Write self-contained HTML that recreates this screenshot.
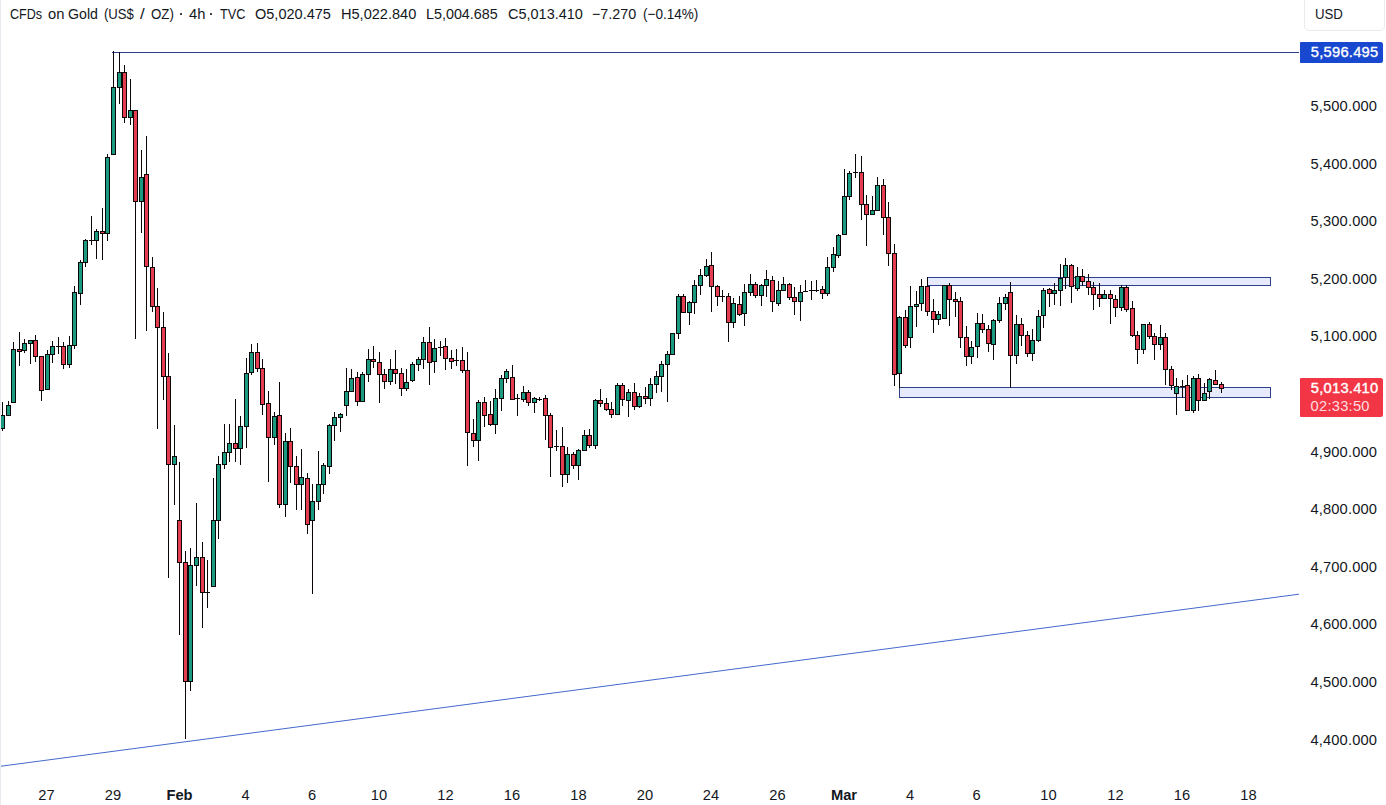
<!DOCTYPE html>
<html><head><meta charset="utf-8"><title>Gold 4h</title>
<style>
html,body{margin:0;padding:0;background:#fff}
body{width:1386px;height:805px;position:relative;overflow:hidden;font-family:"Liberation Sans",sans-serif;color:#131722}
.t{position:absolute;white-space:nowrap;font-size:14.7px;line-height:16px;height:16px}
.w{transform-origin:0 50%}
.x{width:60px;text-align:center}
.b{font-weight:bold}
.dot{position:absolute;width:2.1px;height:2.1px;background:#20242e;border-radius:.4px}
.p{letter-spacing:.15px}
#edge{position:absolute;left:0;top:0;width:1px;height:805px;background:#e9eaef}
#usd{position:absolute;left:1303.5px;top:-6px;width:79px;height:35px;border:1px solid #ebebee;border-radius:5px;box-sizing:content-box}
#usdt{left:1314.7px;top:6.2px;transform:scaleX(.9);transform-origin:0 50%}
#hl{position:absolute;left:1300px;top:42px;width:83px;height:20.7px;background:#1848d0;border-radius:1px 2.5px 2.5px 1px}
#hlt{left:1310.8px;top:44.1px;color:#fff;letter-spacing:.25px;-webkit-text-stroke:.35px #fff}
#pl{position:absolute;left:1300px;top:378px;width:83px;height:38.7px;background:#f23645;border-radius:1px 2.5px 2.5px 1px}
#plt{left:1310.8px;top:379.9px;color:#fff;letter-spacing:.25px;-webkit-text-stroke:.4px #fff}
#plc{left:1310.6px;top:397.6px;color:rgba(255,255,255,.84);letter-spacing:.25px}
</style></head><body>
<svg width="1386" height="805" viewBox="0 0 1386 805" shape-rendering="crispEdges" style="position:absolute;left:0;top:0"><rect x="927" y="277" width="344" height="9" fill="#2c408e"/><rect x="928" y="278" width="342" height="7" fill="#e6eafa"/><rect x="899" y="387" width="372" height="11" fill="#2c408e"/><rect x="900" y="388" width="370" height="9" fill="#e6eafa"/><rect x="112" y="52" width="1187" height="1" fill="#2c408e"/><line x1="-2" y1="766.6" x2="1299" y2="594.2" stroke="#4369cc" stroke-width="1" shape-rendering="geometricPrecision"/><g fill="#0d0606"><rect x="2" y="402" width="1" height="29"/><rect x="0" y="415" width="5" height="14"/><rect x="1" y="416" width="3" height="12" fill="#1a9a80"/><rect x="8" y="401" width="1" height="15"/><rect x="6" y="405" width="5" height="11"/><rect x="7" y="406" width="3" height="9" fill="#1a9a80"/><rect x="13" y="342" width="1" height="61"/><rect x="11" y="349" width="5" height="54"/><rect x="12" y="350" width="3" height="52" fill="#1a9a80"/><rect x="19" y="332" width="1" height="34"/><rect x="17" y="349" width="5" height="3"/><rect x="18" y="350" width="3" height="1" fill="#e43d50"/><rect x="24" y="339" width="1" height="14"/><rect x="22" y="343" width="5" height="8"/><rect x="23" y="344" width="3" height="6" fill="#1a9a80"/><rect x="30" y="340" width="1" height="24"/><rect x="28" y="340" width="5" height="4"/><rect x="29" y="341" width="3" height="2" fill="#1a9a80"/><rect x="35" y="335" width="1" height="27"/><rect x="33" y="340" width="5" height="17"/><rect x="34" y="341" width="3" height="15" fill="#e43d50"/><rect x="41" y="356" width="1" height="45"/><rect x="39" y="356" width="5" height="35"/><rect x="40" y="357" width="3" height="33" fill="#e43d50"/><rect x="47" y="350" width="1" height="40"/><rect x="45" y="354" width="5" height="36"/><rect x="46" y="355" width="3" height="34" fill="#1a9a80"/><rect x="52" y="341" width="1" height="22"/><rect x="50" y="346" width="5" height="9"/><rect x="51" y="347" width="3" height="7" fill="#1a9a80"/><rect x="58" y="337" width="1" height="17"/><rect x="56" y="346" width="5" height="1"/><rect x="63" y="342" width="1" height="27"/><rect x="61" y="346" width="5" height="19"/><rect x="62" y="347" width="3" height="17" fill="#e43d50"/><rect x="69" y="336" width="1" height="32"/><rect x="67" y="345" width="5" height="20"/><rect x="68" y="346" width="3" height="18" fill="#1a9a80"/><rect x="74" y="286" width="1" height="63"/><rect x="72" y="292" width="5" height="54"/><rect x="73" y="293" width="3" height="52" fill="#1a9a80"/><rect x="80" y="260" width="1" height="45"/><rect x="78" y="262" width="5" height="32"/><rect x="79" y="263" width="3" height="30" fill="#1a9a80"/><rect x="85" y="239" width="1" height="28"/><rect x="83" y="240" width="5" height="23"/><rect x="84" y="241" width="3" height="21" fill="#1a9a80"/><rect x="91" y="216" width="1" height="29"/><rect x="89" y="240" width="5" height="1"/><rect x="96" y="229" width="1" height="30"/><rect x="94" y="231" width="5" height="10"/><rect x="95" y="232" width="3" height="8" fill="#1a9a80"/><rect x="102" y="208" width="1" height="52"/><rect x="100" y="231" width="5" height="3"/><rect x="101" y="232" width="3" height="1" fill="#e43d50"/><rect x="107" y="154" width="1" height="87"/><rect x="105" y="157" width="5" height="77"/><rect x="106" y="158" width="3" height="75" fill="#1a9a80"/><rect x="113" y="51" width="1" height="104"/><rect x="111" y="87" width="5" height="68"/><rect x="112" y="88" width="3" height="66" fill="#1a9a80"/><rect x="119" y="52" width="1" height="52"/><rect x="117" y="72" width="5" height="16"/><rect x="118" y="73" width="3" height="14" fill="#1a9a80"/><rect x="124" y="65" width="1" height="58"/><rect x="122" y="72" width="5" height="46"/><rect x="123" y="73" width="3" height="44" fill="#e43d50"/><rect x="130" y="79" width="1" height="46"/><rect x="128" y="110" width="5" height="8"/><rect x="129" y="111" width="3" height="6" fill="#1a9a80"/><rect x="135" y="110" width="1" height="229"/><rect x="133" y="110" width="5" height="92"/><rect x="134" y="111" width="3" height="90" fill="#e43d50"/><rect x="141" y="150" width="1" height="83"/><rect x="139" y="177" width="5" height="25"/><rect x="140" y="178" width="3" height="23" fill="#1a9a80"/><rect x="146" y="136" width="1" height="195"/><rect x="144" y="174" width="5" height="93"/><rect x="145" y="175" width="3" height="91" fill="#e43d50"/><rect x="152" y="257" width="1" height="55"/><rect x="150" y="267" width="5" height="40"/><rect x="151" y="268" width="3" height="38" fill="#e43d50"/><rect x="157" y="288" width="1" height="141"/><rect x="155" y="306" width="5" height="22"/><rect x="156" y="307" width="3" height="20" fill="#e43d50"/><rect x="163" y="312" width="1" height="88"/><rect x="161" y="327" width="5" height="50"/><rect x="162" y="328" width="3" height="48" fill="#e43d50"/><rect x="168" y="353" width="1" height="225"/><rect x="166" y="376" width="5" height="89"/><rect x="167" y="377" width="3" height="87" fill="#e43d50"/><rect x="174" y="425" width="1" height="80"/><rect x="172" y="456" width="5" height="9"/><rect x="173" y="457" width="3" height="7" fill="#1a9a80"/><rect x="179" y="462" width="1" height="173"/><rect x="177" y="520" width="5" height="43"/><rect x="178" y="521" width="3" height="41" fill="#e43d50"/><rect x="185" y="551" width="1" height="188"/><rect x="183" y="562" width="5" height="120"/><rect x="184" y="563" width="3" height="118" fill="#e43d50"/><rect x="190" y="548" width="1" height="143"/><rect x="188" y="565" width="5" height="117"/><rect x="189" y="566" width="3" height="115" fill="#1a9a80"/><rect x="196" y="503" width="1" height="83"/><rect x="194" y="557" width="5" height="9"/><rect x="195" y="558" width="3" height="7" fill="#1a9a80"/><rect x="202" y="542" width="1" height="86"/><rect x="200" y="557" width="5" height="36"/><rect x="201" y="558" width="3" height="34" fill="#e43d50"/><rect x="207" y="560" width="1" height="48"/><rect x="205" y="592" width="5" height="1"/><rect x="213" y="478" width="1" height="109"/><rect x="211" y="520" width="5" height="67"/><rect x="212" y="521" width="3" height="65" fill="#1a9a80"/><rect x="218" y="456" width="1" height="83"/><rect x="216" y="464" width="5" height="57"/><rect x="217" y="465" width="3" height="55" fill="#1a9a80"/><rect x="224" y="424" width="1" height="45"/><rect x="222" y="452" width="5" height="13"/><rect x="223" y="453" width="3" height="11" fill="#1a9a80"/><rect x="229" y="424" width="1" height="38"/><rect x="227" y="443" width="5" height="10"/><rect x="228" y="444" width="3" height="8" fill="#1a9a80"/><rect x="235" y="399" width="1" height="63"/><rect x="233" y="443" width="5" height="6"/><rect x="234" y="444" width="3" height="4" fill="#e43d50"/><rect x="240" y="416" width="1" height="49"/><rect x="238" y="426" width="5" height="23"/><rect x="239" y="427" width="3" height="21" fill="#1a9a80"/><rect x="246" y="358" width="1" height="90"/><rect x="244" y="373" width="5" height="54"/><rect x="245" y="374" width="3" height="52" fill="#1a9a80"/><rect x="251" y="344" width="1" height="31"/><rect x="249" y="352" width="5" height="21"/><rect x="250" y="353" width="3" height="19" fill="#1a9a80"/><rect x="257" y="343" width="1" height="29"/><rect x="255" y="352" width="5" height="17"/><rect x="256" y="353" width="3" height="15" fill="#e43d50"/><rect x="262" y="359" width="1" height="56"/><rect x="260" y="368" width="5" height="37"/><rect x="261" y="369" width="3" height="35" fill="#e43d50"/><rect x="268" y="391" width="1" height="91"/><rect x="266" y="403" width="5" height="35"/><rect x="267" y="404" width="3" height="33" fill="#e43d50"/><rect x="274" y="412" width="1" height="33"/><rect x="272" y="416" width="5" height="22"/><rect x="273" y="417" width="3" height="20" fill="#1a9a80"/><rect x="279" y="382" width="1" height="126"/><rect x="277" y="415" width="5" height="90"/><rect x="278" y="416" width="3" height="88" fill="#e43d50"/><rect x="285" y="433" width="1" height="84"/><rect x="283" y="441" width="5" height="64"/><rect x="284" y="442" width="3" height="62" fill="#1a9a80"/><rect x="290" y="428" width="1" height="55"/><rect x="288" y="441" width="5" height="26"/><rect x="289" y="442" width="3" height="24" fill="#e43d50"/><rect x="296" y="456" width="1" height="54"/><rect x="294" y="466" width="5" height="19"/><rect x="295" y="467" width="3" height="17" fill="#e43d50"/><rect x="301" y="449" width="1" height="61"/><rect x="299" y="477" width="5" height="8"/><rect x="300" y="478" width="3" height="6" fill="#1a9a80"/><rect x="307" y="473" width="1" height="61"/><rect x="305" y="478" width="5" height="47"/><rect x="306" y="479" width="3" height="45" fill="#e43d50"/><rect x="312" y="484" width="1" height="110"/><rect x="310" y="501" width="5" height="20"/><rect x="311" y="502" width="3" height="18" fill="#1a9a80"/><rect x="318" y="451" width="1" height="59"/><rect x="316" y="484" width="5" height="18"/><rect x="317" y="485" width="3" height="16" fill="#1a9a80"/><rect x="323" y="463" width="1" height="31"/><rect x="321" y="465" width="5" height="20"/><rect x="322" y="466" width="3" height="18" fill="#1a9a80"/><rect x="329" y="424" width="1" height="50"/><rect x="327" y="425" width="5" height="42"/><rect x="328" y="426" width="3" height="40" fill="#1a9a80"/><rect x="334" y="412" width="1" height="29"/><rect x="332" y="417" width="5" height="9"/><rect x="333" y="418" width="3" height="7" fill="#1a9a80"/><rect x="340" y="413" width="1" height="19"/><rect x="338" y="414" width="5" height="4"/><rect x="339" y="415" width="3" height="2" fill="#1a9a80"/><rect x="346" y="368" width="1" height="48"/><rect x="344" y="391" width="5" height="15"/><rect x="345" y="392" width="3" height="13" fill="#1a9a80"/><rect x="351" y="369" width="1" height="23"/><rect x="349" y="378" width="5" height="14"/><rect x="350" y="379" width="3" height="12" fill="#1a9a80"/><rect x="357" y="372" width="1" height="34"/><rect x="355" y="377" width="5" height="25"/><rect x="356" y="378" width="3" height="23" fill="#e43d50"/><rect x="362" y="372" width="1" height="30"/><rect x="360" y="374" width="5" height="28"/><rect x="361" y="375" width="3" height="26" fill="#1a9a80"/><rect x="368" y="349" width="1" height="33"/><rect x="366" y="359" width="5" height="16"/><rect x="367" y="360" width="3" height="14" fill="#1a9a80"/><rect x="373" y="346" width="1" height="22"/><rect x="371" y="359" width="5" height="3"/><rect x="372" y="360" width="3" height="1" fill="#e43d50"/><rect x="379" y="352" width="1" height="51"/><rect x="377" y="362" width="5" height="13"/><rect x="378" y="363" width="3" height="11" fill="#e43d50"/><rect x="384" y="369" width="1" height="20"/><rect x="382" y="374" width="5" height="8"/><rect x="383" y="375" width="3" height="6" fill="#e43d50"/><rect x="390" y="359" width="1" height="26"/><rect x="388" y="369" width="5" height="13"/><rect x="389" y="370" width="3" height="11" fill="#1a9a80"/><rect x="395" y="350" width="1" height="34"/><rect x="393" y="369" width="5" height="5"/><rect x="394" y="370" width="3" height="3" fill="#e43d50"/><rect x="401" y="368" width="1" height="28"/><rect x="399" y="373" width="5" height="16"/><rect x="400" y="374" width="3" height="14" fill="#e43d50"/><rect x="406" y="369" width="1" height="22"/><rect x="404" y="382" width="5" height="7"/><rect x="405" y="383" width="3" height="5" fill="#1a9a80"/><rect x="412" y="362" width="1" height="20"/><rect x="410" y="364" width="5" height="17"/><rect x="411" y="365" width="3" height="15" fill="#1a9a80"/><rect x="418" y="357" width="1" height="14"/><rect x="416" y="359" width="5" height="6"/><rect x="417" y="360" width="3" height="4" fill="#1a9a80"/><rect x="423" y="337" width="1" height="32"/><rect x="421" y="342" width="5" height="18"/><rect x="422" y="343" width="3" height="16" fill="#1a9a80"/><rect x="429" y="327" width="1" height="58"/><rect x="427" y="342" width="5" height="21"/><rect x="428" y="343" width="3" height="19" fill="#e43d50"/><rect x="434" y="339" width="1" height="34"/><rect x="432" y="348" width="5" height="14"/><rect x="433" y="349" width="3" height="12" fill="#1a9a80"/><rect x="440" y="341" width="1" height="15"/><rect x="438" y="347" width="5" height="1"/><rect x="445" y="338" width="1" height="32"/><rect x="443" y="346" width="5" height="13"/><rect x="444" y="347" width="3" height="11" fill="#e43d50"/><rect x="451" y="350" width="1" height="19"/><rect x="449" y="358" width="5" height="4"/><rect x="450" y="359" width="3" height="2" fill="#e43d50"/><rect x="456" y="349" width="1" height="17"/><rect x="454" y="360" width="5" height="1"/><rect x="462" y="347" width="1" height="26"/><rect x="460" y="360" width="5" height="11"/><rect x="461" y="361" width="3" height="9" fill="#e43d50"/><rect x="467" y="352" width="1" height="114"/><rect x="465" y="370" width="5" height="63"/><rect x="466" y="371" width="3" height="61" fill="#e43d50"/><rect x="473" y="419" width="1" height="28"/><rect x="471" y="433" width="5" height="8"/><rect x="472" y="434" width="3" height="6" fill="#e43d50"/><rect x="478" y="400" width="1" height="61"/><rect x="476" y="402" width="5" height="39"/><rect x="477" y="403" width="3" height="37" fill="#1a9a80"/><rect x="484" y="397" width="1" height="30"/><rect x="482" y="402" width="5" height="14"/><rect x="483" y="403" width="3" height="12" fill="#e43d50"/><rect x="490" y="401" width="1" height="25"/><rect x="488" y="414" width="5" height="11"/><rect x="489" y="415" width="3" height="9" fill="#e43d50"/><rect x="495" y="389" width="1" height="45"/><rect x="493" y="398" width="5" height="27"/><rect x="494" y="399" width="3" height="25" fill="#1a9a80"/><rect x="501" y="375" width="1" height="36"/><rect x="499" y="378" width="5" height="21"/><rect x="500" y="379" width="3" height="19" fill="#1a9a80"/><rect x="506" y="369" width="1" height="14"/><rect x="504" y="371" width="5" height="8"/><rect x="505" y="372" width="3" height="6" fill="#1a9a80"/><rect x="512" y="365" width="1" height="35"/><rect x="510" y="377" width="5" height="23"/><rect x="511" y="378" width="3" height="21" fill="#e43d50"/><rect x="517" y="394" width="1" height="22"/><rect x="515" y="398" width="5" height="1"/><rect x="523" y="386" width="1" height="16"/><rect x="521" y="392" width="5" height="8"/><rect x="522" y="393" width="3" height="6" fill="#1a9a80"/><rect x="528" y="390" width="1" height="16"/><rect x="526" y="392" width="5" height="11"/><rect x="527" y="393" width="3" height="9" fill="#e43d50"/><rect x="534" y="397" width="1" height="16"/><rect x="532" y="398" width="5" height="5"/><rect x="533" y="399" width="3" height="3" fill="#1a9a80"/><rect x="539" y="397" width="1" height="4"/><rect x="537" y="399" width="5" height="1"/><rect x="545" y="395" width="1" height="45"/><rect x="543" y="398" width="5" height="18"/><rect x="544" y="399" width="3" height="16" fill="#e43d50"/><rect x="550" y="413" width="1" height="64"/><rect x="548" y="415" width="5" height="33"/><rect x="549" y="416" width="3" height="31" fill="#e43d50"/><rect x="556" y="430" width="1" height="21"/><rect x="554" y="446" width="5" height="1"/><rect x="562" y="427" width="1" height="60"/><rect x="560" y="446" width="5" height="29"/><rect x="561" y="447" width="3" height="27" fill="#e43d50"/><rect x="567" y="447" width="1" height="36"/><rect x="565" y="454" width="5" height="21"/><rect x="566" y="455" width="3" height="19" fill="#1a9a80"/><rect x="573" y="452" width="1" height="17"/><rect x="571" y="454" width="5" height="12"/><rect x="572" y="455" width="3" height="10" fill="#e43d50"/><rect x="578" y="449" width="1" height="31"/><rect x="576" y="450" width="5" height="16"/><rect x="577" y="451" width="3" height="14" fill="#1a9a80"/><rect x="584" y="430" width="1" height="21"/><rect x="582" y="435" width="5" height="16"/><rect x="583" y="436" width="3" height="14" fill="#1a9a80"/><rect x="589" y="429" width="1" height="19"/><rect x="587" y="435" width="5" height="11"/><rect x="588" y="436" width="3" height="9" fill="#e43d50"/><rect x="595" y="399" width="1" height="50"/><rect x="593" y="400" width="5" height="46"/><rect x="594" y="401" width="3" height="44" fill="#1a9a80"/><rect x="600" y="389" width="1" height="18"/><rect x="598" y="400" width="5" height="4"/><rect x="599" y="401" width="3" height="2" fill="#e43d50"/><rect x="606" y="398" width="1" height="13"/><rect x="604" y="403" width="5" height="7"/><rect x="605" y="404" width="3" height="5" fill="#e43d50"/><rect x="611" y="402" width="1" height="16"/><rect x="609" y="409" width="5" height="6"/><rect x="610" y="410" width="3" height="4" fill="#e43d50"/><rect x="617" y="383" width="1" height="32"/><rect x="615" y="385" width="5" height="30"/><rect x="616" y="386" width="3" height="28" fill="#1a9a80"/><rect x="622" y="383" width="1" height="23"/><rect x="620" y="385" width="5" height="15"/><rect x="621" y="386" width="3" height="13" fill="#e43d50"/><rect x="628" y="389" width="1" height="28"/><rect x="626" y="392" width="5" height="9"/><rect x="627" y="393" width="3" height="7" fill="#1a9a80"/><rect x="634" y="383" width="1" height="27"/><rect x="632" y="392" width="5" height="15"/><rect x="633" y="393" width="3" height="13" fill="#e43d50"/><rect x="639" y="393" width="1" height="15"/><rect x="637" y="396" width="5" height="11"/><rect x="638" y="397" width="3" height="9" fill="#1a9a80"/><rect x="645" y="387" width="1" height="17"/><rect x="643" y="396" width="5" height="3"/><rect x="644" y="397" width="3" height="1" fill="#e43d50"/><rect x="650" y="378" width="1" height="28"/><rect x="648" y="384" width="5" height="15"/><rect x="649" y="385" width="3" height="13" fill="#1a9a80"/><rect x="656" y="371" width="1" height="22"/><rect x="654" y="376" width="5" height="9"/><rect x="655" y="377" width="3" height="7" fill="#1a9a80"/><rect x="661" y="361" width="1" height="31"/><rect x="659" y="364" width="5" height="13"/><rect x="660" y="365" width="3" height="11" fill="#1a9a80"/><rect x="667" y="351" width="1" height="51"/><rect x="665" y="354" width="5" height="11"/><rect x="666" y="355" width="3" height="9" fill="#1a9a80"/><rect x="672" y="333" width="1" height="22"/><rect x="670" y="333" width="5" height="22"/><rect x="671" y="334" width="3" height="20" fill="#1a9a80"/><rect x="678" y="294" width="1" height="45"/><rect x="676" y="296" width="5" height="38"/><rect x="677" y="297" width="3" height="36" fill="#1a9a80"/><rect x="683" y="294" width="1" height="19"/><rect x="681" y="296" width="5" height="17"/><rect x="682" y="297" width="3" height="15" fill="#e43d50"/><rect x="689" y="301" width="1" height="24"/><rect x="687" y="302" width="5" height="11"/><rect x="688" y="303" width="3" height="9" fill="#1a9a80"/><rect x="694" y="280" width="1" height="34"/><rect x="692" y="285" width="5" height="18"/><rect x="693" y="286" width="3" height="16" fill="#1a9a80"/><rect x="700" y="269" width="1" height="26"/><rect x="698" y="275" width="5" height="11"/><rect x="699" y="276" width="3" height="9" fill="#1a9a80"/><rect x="706" y="259" width="1" height="18"/><rect x="704" y="266" width="5" height="10"/><rect x="705" y="267" width="3" height="8" fill="#1a9a80"/><rect x="711" y="252" width="1" height="60"/><rect x="709" y="265" width="5" height="22"/><rect x="710" y="266" width="3" height="20" fill="#e43d50"/><rect x="717" y="285" width="1" height="21"/><rect x="715" y="286" width="5" height="11"/><rect x="716" y="287" width="3" height="9" fill="#e43d50"/><rect x="722" y="290" width="1" height="12"/><rect x="720" y="296" width="5" height="1"/><rect x="728" y="293" width="1" height="49"/><rect x="726" y="296" width="5" height="27"/><rect x="727" y="297" width="3" height="25" fill="#e43d50"/><rect x="733" y="298" width="1" height="30"/><rect x="731" y="303" width="5" height="20"/><rect x="732" y="304" width="3" height="18" fill="#1a9a80"/><rect x="739" y="296" width="1" height="20"/><rect x="737" y="304" width="5" height="11"/><rect x="738" y="305" width="3" height="9" fill="#e43d50"/><rect x="744" y="284" width="1" height="42"/><rect x="742" y="292" width="5" height="22"/><rect x="743" y="293" width="3" height="20" fill="#1a9a80"/><rect x="750" y="274" width="1" height="22"/><rect x="748" y="284" width="5" height="9"/><rect x="749" y="285" width="3" height="7" fill="#1a9a80"/><rect x="755" y="282" width="1" height="16"/><rect x="753" y="284" width="5" height="12"/><rect x="754" y="285" width="3" height="10" fill="#e43d50"/><rect x="761" y="284" width="1" height="22"/><rect x="759" y="285" width="5" height="11"/><rect x="760" y="286" width="3" height="9" fill="#1a9a80"/><rect x="766" y="270" width="1" height="27"/><rect x="764" y="279" width="5" height="7"/><rect x="765" y="280" width="3" height="5" fill="#1a9a80"/><rect x="772" y="276" width="1" height="36"/><rect x="770" y="280" width="5" height="22"/><rect x="771" y="281" width="3" height="20" fill="#e43d50"/><rect x="778" y="281" width="1" height="25"/><rect x="776" y="290" width="5" height="14"/><rect x="777" y="291" width="3" height="12" fill="#1a9a80"/><rect x="783" y="277" width="1" height="14"/><rect x="781" y="284" width="5" height="7"/><rect x="782" y="285" width="3" height="5" fill="#1a9a80"/><rect x="789" y="283" width="1" height="17"/><rect x="787" y="284" width="5" height="14"/><rect x="788" y="285" width="3" height="12" fill="#e43d50"/><rect x="794" y="287" width="1" height="28"/><rect x="792" y="297" width="5" height="5"/><rect x="793" y="298" width="3" height="3" fill="#e43d50"/><rect x="800" y="285" width="1" height="36"/><rect x="798" y="292" width="5" height="10"/><rect x="799" y="293" width="3" height="8" fill="#1a9a80"/><rect x="805" y="280" width="1" height="12"/><rect x="803" y="291" width="5" height="1"/><rect x="811" y="281" width="1" height="19"/><rect x="809" y="290" width="5" height="1"/><rect x="816" y="280" width="1" height="12"/><rect x="814" y="290" width="5" height="1"/><rect x="822" y="286" width="1" height="13"/><rect x="820" y="289" width="5" height="5"/><rect x="821" y="290" width="3" height="3" fill="#e43d50"/><rect x="827" y="257" width="1" height="39"/><rect x="825" y="267" width="5" height="27"/><rect x="826" y="268" width="3" height="25" fill="#1a9a80"/><rect x="833" y="247" width="1" height="25"/><rect x="831" y="254" width="5" height="14"/><rect x="832" y="255" width="3" height="12" fill="#1a9a80"/><rect x="838" y="234" width="1" height="24"/><rect x="836" y="235" width="5" height="21"/><rect x="837" y="236" width="3" height="19" fill="#1a9a80"/><rect x="844" y="169" width="1" height="66"/><rect x="842" y="196" width="5" height="39"/><rect x="843" y="197" width="3" height="37" fill="#1a9a80"/><rect x="849" y="171" width="1" height="29"/><rect x="847" y="173" width="5" height="24"/><rect x="848" y="174" width="3" height="22" fill="#1a9a80"/><rect x="855" y="154" width="1" height="24"/><rect x="853" y="172" width="5" height="1"/><rect x="861" y="156" width="1" height="64"/><rect x="859" y="172" width="5" height="33"/><rect x="860" y="173" width="3" height="31" fill="#e43d50"/><rect x="866" y="195" width="1" height="51"/><rect x="864" y="204" width="5" height="11"/><rect x="865" y="205" width="3" height="9" fill="#e43d50"/><rect x="872" y="196" width="1" height="19"/><rect x="870" y="210" width="5" height="5"/><rect x="871" y="211" width="3" height="3" fill="#1a9a80"/><rect x="877" y="177" width="1" height="34"/><rect x="875" y="185" width="5" height="26"/><rect x="876" y="186" width="3" height="24" fill="#1a9a80"/><rect x="883" y="179" width="1" height="56"/><rect x="881" y="185" width="5" height="33"/><rect x="882" y="186" width="3" height="31" fill="#e43d50"/><rect x="888" y="202" width="1" height="64"/><rect x="886" y="217" width="5" height="37"/><rect x="887" y="218" width="3" height="35" fill="#e43d50"/><rect x="894" y="244" width="1" height="142"/><rect x="892" y="253" width="5" height="122"/><rect x="893" y="254" width="3" height="120" fill="#e43d50"/><rect x="899" y="316" width="1" height="72"/><rect x="897" y="317" width="5" height="57"/><rect x="898" y="318" width="3" height="55" fill="#1a9a80"/><rect x="905" y="310" width="1" height="38"/><rect x="903" y="317" width="5" height="29"/><rect x="904" y="318" width="3" height="27" fill="#e43d50"/><rect x="910" y="286" width="1" height="62"/><rect x="908" y="306" width="5" height="32"/><rect x="909" y="307" width="3" height="30" fill="#1a9a80"/><rect x="916" y="291" width="1" height="36"/><rect x="914" y="304" width="5" height="3"/><rect x="915" y="305" width="3" height="1" fill="#1a9a80"/><rect x="921" y="279" width="1" height="32"/><rect x="919" y="286" width="5" height="18"/><rect x="920" y="287" width="3" height="16" fill="#1a9a80"/><rect x="927" y="277" width="1" height="39"/><rect x="925" y="286" width="5" height="26"/><rect x="926" y="287" width="3" height="24" fill="#e43d50"/><rect x="933" y="299" width="1" height="34"/><rect x="931" y="311" width="5" height="9"/><rect x="932" y="312" width="3" height="7" fill="#e43d50"/><rect x="938" y="311" width="1" height="14"/><rect x="936" y="314" width="5" height="6"/><rect x="937" y="315" width="3" height="4" fill="#1a9a80"/><rect x="944" y="285" width="1" height="34"/><rect x="942" y="285" width="5" height="34"/><rect x="943" y="286" width="3" height="32" fill="#1a9a80"/><rect x="949" y="283" width="1" height="43"/><rect x="947" y="285" width="5" height="15"/><rect x="948" y="286" width="3" height="13" fill="#e43d50"/><rect x="955" y="292" width="1" height="25"/><rect x="953" y="299" width="5" height="3"/><rect x="954" y="300" width="3" height="1" fill="#e43d50"/><rect x="960" y="297" width="1" height="51"/><rect x="958" y="301" width="5" height="37"/><rect x="959" y="302" width="3" height="35" fill="#e43d50"/><rect x="966" y="326" width="1" height="40"/><rect x="964" y="337" width="5" height="20"/><rect x="965" y="338" width="3" height="18" fill="#e43d50"/><rect x="971" y="341" width="1" height="23"/><rect x="969" y="347" width="5" height="10"/><rect x="970" y="348" width="3" height="8" fill="#1a9a80"/><rect x="977" y="313" width="1" height="45"/><rect x="975" y="323" width="5" height="24"/><rect x="976" y="324" width="3" height="22" fill="#1a9a80"/><rect x="982" y="314" width="1" height="19"/><rect x="980" y="323" width="5" height="7"/><rect x="981" y="324" width="3" height="5" fill="#e43d50"/><rect x="988" y="325" width="1" height="27"/><rect x="986" y="329" width="5" height="15"/><rect x="987" y="330" width="3" height="13" fill="#e43d50"/><rect x="993" y="319" width="1" height="41"/><rect x="991" y="320" width="5" height="25"/><rect x="992" y="321" width="3" height="23" fill="#1a9a80"/><rect x="999" y="297" width="1" height="26"/><rect x="997" y="303" width="5" height="18"/><rect x="998" y="304" width="3" height="16" fill="#1a9a80"/><rect x="1005" y="294" width="1" height="16"/><rect x="1003" y="297" width="5" height="7"/><rect x="1004" y="298" width="3" height="5" fill="#1a9a80"/><rect x="1010" y="282" width="1" height="106"/><rect x="1008" y="292" width="5" height="64"/><rect x="1009" y="293" width="3" height="62" fill="#e43d50"/><rect x="1016" y="315" width="1" height="49"/><rect x="1014" y="324" width="5" height="32"/><rect x="1015" y="325" width="3" height="30" fill="#1a9a80"/><rect x="1021" y="318" width="1" height="28"/><rect x="1019" y="324" width="5" height="12"/><rect x="1020" y="325" width="3" height="10" fill="#e43d50"/><rect x="1027" y="331" width="1" height="26"/><rect x="1025" y="335" width="5" height="19"/><rect x="1026" y="336" width="3" height="17" fill="#e43d50"/><rect x="1032" y="329" width="1" height="32"/><rect x="1030" y="340" width="5" height="14"/><rect x="1031" y="341" width="3" height="12" fill="#1a9a80"/><rect x="1038" y="310" width="1" height="32"/><rect x="1036" y="316" width="5" height="25"/><rect x="1037" y="317" width="3" height="23" fill="#1a9a80"/><rect x="1043" y="288" width="1" height="40"/><rect x="1041" y="290" width="5" height="26"/><rect x="1042" y="291" width="3" height="24" fill="#1a9a80"/><rect x="1049" y="288" width="1" height="19"/><rect x="1047" y="289" width="5" height="5"/><rect x="1048" y="290" width="3" height="3" fill="#e43d50"/><rect x="1054" y="283" width="1" height="22"/><rect x="1052" y="290" width="5" height="4"/><rect x="1053" y="291" width="3" height="2" fill="#1a9a80"/><rect x="1060" y="264" width="1" height="42"/><rect x="1058" y="278" width="5" height="13"/><rect x="1059" y="279" width="3" height="11" fill="#1a9a80"/><rect x="1065" y="258" width="1" height="31"/><rect x="1063" y="265" width="5" height="13"/><rect x="1064" y="266" width="3" height="11" fill="#1a9a80"/><rect x="1071" y="264" width="1" height="39"/><rect x="1069" y="265" width="5" height="22"/><rect x="1070" y="266" width="3" height="20" fill="#e43d50"/><rect x="1077" y="267" width="1" height="24"/><rect x="1075" y="276" width="5" height="13"/><rect x="1076" y="277" width="3" height="11" fill="#1a9a80"/><rect x="1082" y="269" width="1" height="17"/><rect x="1080" y="276" width="5" height="6"/><rect x="1081" y="277" width="3" height="4" fill="#e43d50"/><rect x="1088" y="274" width="1" height="21"/><rect x="1086" y="281" width="5" height="7"/><rect x="1087" y="282" width="3" height="5" fill="#e43d50"/><rect x="1093" y="282" width="1" height="28"/><rect x="1091" y="287" width="5" height="8"/><rect x="1092" y="288" width="3" height="6" fill="#e43d50"/><rect x="1099" y="283" width="1" height="24"/><rect x="1097" y="294" width="5" height="5"/><rect x="1098" y="295" width="3" height="3" fill="#e43d50"/><rect x="1104" y="290" width="1" height="9"/><rect x="1102" y="294" width="5" height="5"/><rect x="1103" y="295" width="3" height="3" fill="#1a9a80"/><rect x="1110" y="290" width="1" height="34"/><rect x="1108" y="294" width="5" height="5"/><rect x="1109" y="295" width="3" height="3" fill="#e43d50"/><rect x="1115" y="295" width="1" height="22"/><rect x="1113" y="299" width="5" height="9"/><rect x="1114" y="300" width="3" height="7" fill="#e43d50"/><rect x="1121" y="285" width="1" height="26"/><rect x="1119" y="287" width="5" height="21"/><rect x="1120" y="288" width="3" height="19" fill="#1a9a80"/><rect x="1126" y="285" width="1" height="27"/><rect x="1124" y="287" width="5" height="23"/><rect x="1125" y="288" width="3" height="21" fill="#e43d50"/><rect x="1132" y="301" width="1" height="36"/><rect x="1130" y="308" width="5" height="28"/><rect x="1131" y="309" width="3" height="26" fill="#e43d50"/><rect x="1137" y="331" width="1" height="33"/><rect x="1135" y="335" width="5" height="15"/><rect x="1136" y="336" width="3" height="13" fill="#e43d50"/><rect x="1143" y="324" width="1" height="30"/><rect x="1141" y="324" width="5" height="26"/><rect x="1142" y="325" width="3" height="24" fill="#1a9a80"/><rect x="1149" y="322" width="1" height="17"/><rect x="1147" y="324" width="5" height="13"/><rect x="1148" y="325" width="3" height="11" fill="#e43d50"/><rect x="1154" y="333" width="1" height="27"/><rect x="1152" y="336" width="5" height="9"/><rect x="1153" y="337" width="3" height="7" fill="#e43d50"/><rect x="1160" y="325" width="1" height="25"/><rect x="1158" y="337" width="5" height="8"/><rect x="1159" y="338" width="3" height="6" fill="#1a9a80"/><rect x="1165" y="333" width="1" height="52"/><rect x="1163" y="337" width="5" height="33"/><rect x="1164" y="338" width="3" height="31" fill="#e43d50"/><rect x="1171" y="366" width="1" height="24"/><rect x="1169" y="369" width="5" height="17"/><rect x="1170" y="370" width="3" height="15" fill="#e43d50"/><rect x="1176" y="378" width="1" height="37"/><rect x="1174" y="386" width="5" height="8"/><rect x="1175" y="387" width="3" height="6" fill="#1a9a80"/><rect x="1182" y="380" width="1" height="18"/><rect x="1180" y="386" width="5" height="1"/><rect x="1187" y="375" width="1" height="36"/><rect x="1185" y="385" width="5" height="26"/><rect x="1186" y="386" width="3" height="24" fill="#e43d50"/><rect x="1193" y="376" width="1" height="37"/><rect x="1191" y="378" width="5" height="33"/><rect x="1192" y="379" width="3" height="31" fill="#1a9a80"/><rect x="1198" y="374" width="1" height="37"/><rect x="1196" y="378" width="5" height="23"/><rect x="1197" y="379" width="3" height="21" fill="#e43d50"/><rect x="1204" y="383" width="1" height="18"/><rect x="1202" y="393" width="5" height="8"/><rect x="1203" y="394" width="3" height="6" fill="#1a9a80"/><rect x="1209" y="378" width="1" height="21"/><rect x="1207" y="379" width="5" height="13"/><rect x="1208" y="380" width="3" height="11" fill="#1a9a80"/><rect x="1215" y="370" width="1" height="15"/><rect x="1213" y="380" width="5" height="5"/><rect x="1214" y="381" width="3" height="3" fill="#e43d50"/><rect x="1221" y="382" width="1" height="11"/><rect x="1219" y="384" width="5" height="5"/><rect x="1220" y="385" width="3" height="3" fill="#e43d50"/></g></svg>
<div id="edge"></div>
<div id="usd"></div><span class="t" id="usdt">USD</span>
<div id="hl"></div><span class="t" id="hlt">5,596.495</span>
<div id="pl"></div><span class="t" id="plt">5,013.410</span><span class="t" id="plc">02:33:50</span>
<span class="t w" id="w0" style="left:10.4px;top:6px;transform:scaleX(0.8526)">CFDs</span><span class="t w" id="w1" style="left:47.5px;top:6px;transform:scaleX(1.0034)">on</span><span class="t w" id="w2" style="left:68.3px;top:6px;transform:scaleX(0.9635)">Gold</span><span class="t w" id="w3" style="left:103.9px;top:6px;transform:scaleX(0.8934)">(US$</span><span class="t w" id="w4" style="left:139.5px;top:6px;transform:scaleX(1.1500)">/</span><span class="t w" id="w5" style="left:150.6px;top:6px;transform:scaleX(0.9053)">OZ)</span><i class="dot" style="left:180.1px;top:12.7px"></i><span class="t w" id="w7" style="left:188.8px;top:6px;transform:scaleX(1.0034)">4h</span><i class="dot" style="left:210.3px;top:12.7px"></i><span class="t w" id="w9" style="left:220.3px;top:6px;transform:scaleX(0.8647)">TVC</span><span class="t w" id="w10" style="left:255.3px;top:6px;transform:scaleX(0.9887)">O5,020.475</span><span class="t w" id="w11" style="left:340.8px;top:6px;transform:scaleX(0.9914)">H5,022.840</span><span class="t w" id="w12" style="left:426.2px;top:6px;transform:scaleX(0.9753)">L5,004.685</span><span class="t w" id="w13" style="left:507.5px;top:6px;transform:scaleX(0.9861)">C5,013.410</span><span class="t w" id="w14" style="left:591.9px;top:6px;transform:scaleX(0.9748)">−7.270</span><span class="t w" id="w15" style="left:642.6px;top:6px;transform:scaleX(0.9214)">(−0.14%)</span><span class="t p" style="left:1310.4px;top:97.9px">5,500.000</span><span class="t p" style="left:1310.4px;top:155.5px">5,400.000</span><span class="t p" style="left:1310.4px;top:213.1px">5,300.000</span><span class="t p" style="left:1310.4px;top:270.7px">5,200.000</span><span class="t p" style="left:1310.4px;top:328.3px">5,100.000</span><span class="t p" style="left:1310.4px;top:443.5px">4,900.000</span><span class="t p" style="left:1310.4px;top:501.1px">4,800.000</span><span class="t p" style="left:1310.4px;top:558.7px">4,700.000</span><span class="t p" style="left:1310.4px;top:616.3px">4,600.000</span><span class="t p" style="left:1310.4px;top:673.9px">4,500.000</span><span class="t p" style="left:1310.4px;top:731.5px">4,400.000</span><span class="t x" style="left:16.5px;top:787.3px">27</span><span class="t x" style="left:83px;top:787.3px">29</span><span class="t x b" style="left:149.5px;top:787.3px">Feb</span><span class="t x" style="left:215.5px;top:787.3px">4</span><span class="t x" style="left:282px;top:787.3px">6</span><span class="t x" style="left:349px;top:787.3px">10</span><span class="t x" style="left:415.5px;top:787.3px">12</span><span class="t x" style="left:482px;top:787.3px">16</span><span class="t x" style="left:548.5px;top:787.3px">18</span><span class="t x" style="left:615px;top:787.3px">20</span><span class="t x" style="left:681px;top:787.3px">24</span><span class="t x" style="left:747.5px;top:787.3px">26</span><span class="t x b" style="left:814px;top:787.3px">Mar</span><span class="t x" style="left:880px;top:787.3px">4</span><span class="t x" style="left:946.5px;top:787.3px">6</span><span class="t x" style="left:1018.5px;top:787.3px">10</span><span class="t x" style="left:1085.5px;top:787.3px">12</span><span class="t x" style="left:1152px;top:787.3px">16</span><span class="t x" style="left:1218.5px;top:787.3px">18</span>
</body></html>
